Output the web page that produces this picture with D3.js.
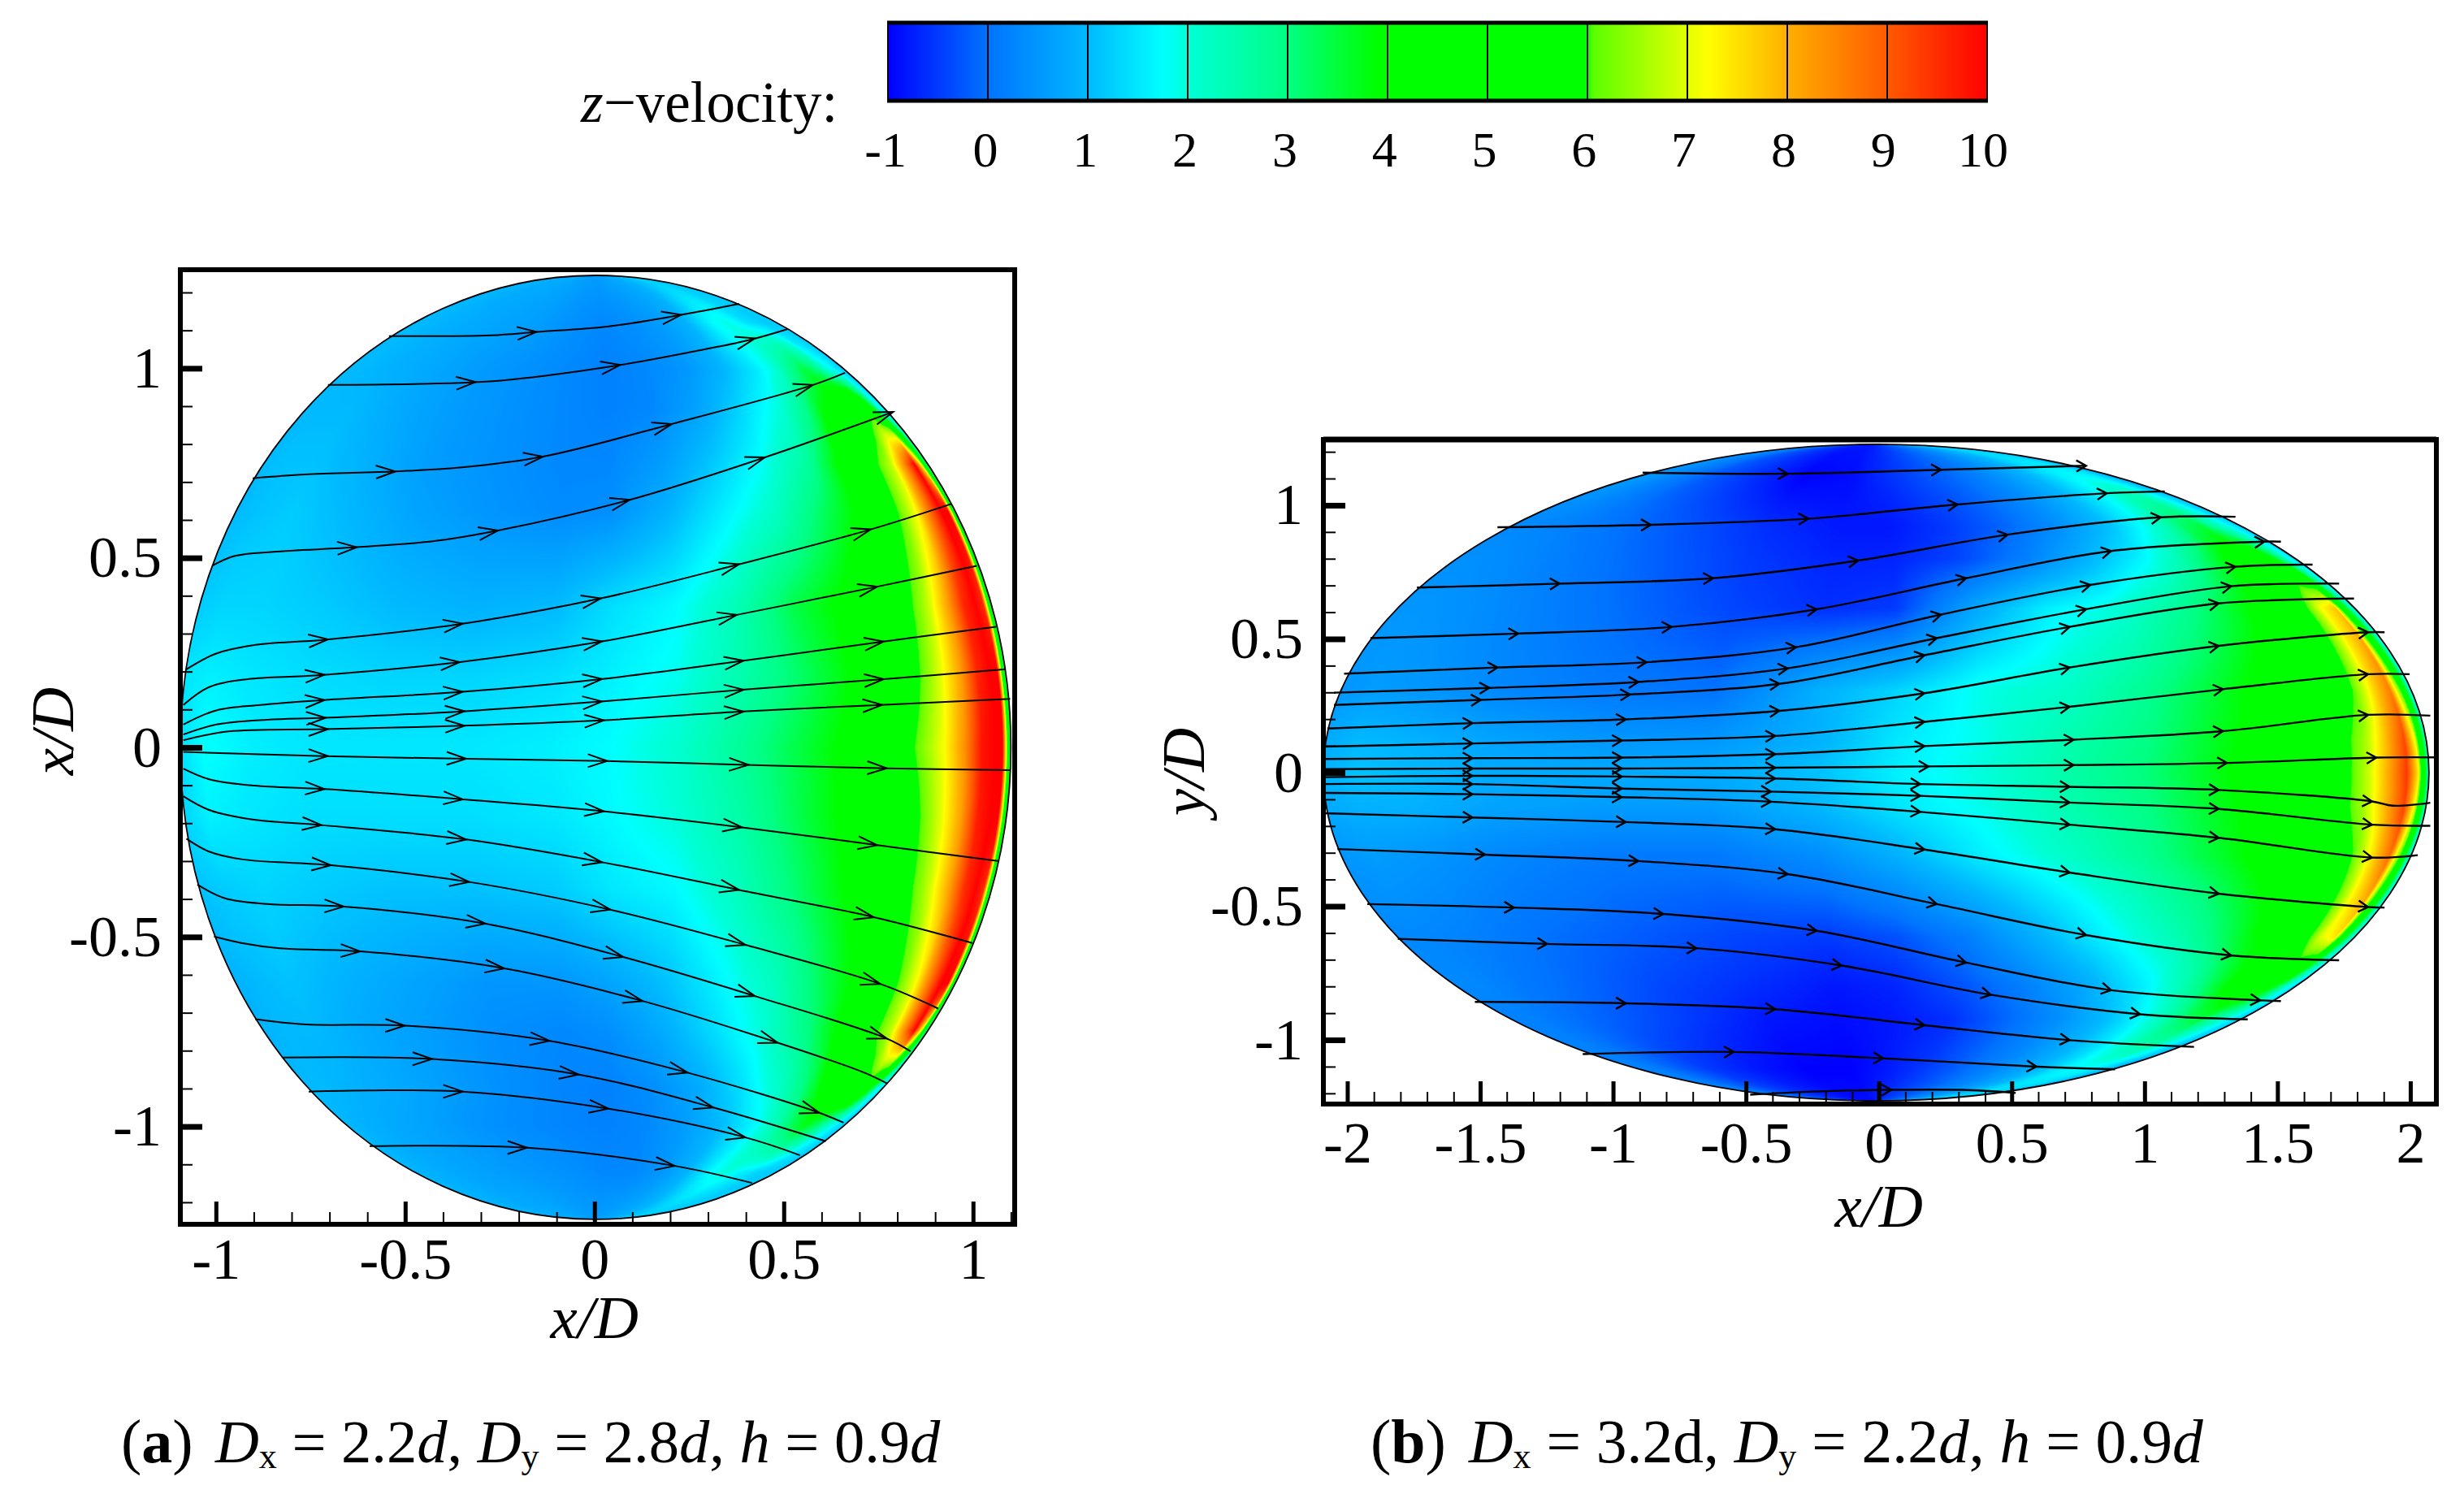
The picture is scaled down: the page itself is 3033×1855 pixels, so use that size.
<!DOCTYPE html>
<html><head><meta charset="utf-8"><script src="https://cdn.jsdelivr.net/npm/d3@7"></script>
<style>html,body{margin:0;background:#fff}svg{display:block}text{font-family:"Liberation Serif",serif;fill:#000}</style></head>
<body><svg id="c" width="3033" height="1855"></svg>
<script>
// colour bar
const barTicks=[-1,0,1,2,3,4,5,6,7,8,9,10];
const cmapV=[-1,0,1,1.75,2,3,3.9,6,6.03,7,7.2,8,9,10];
const cmapC=["#0000ff","#0073ff","#00b9ff","#00ffff","#00ffd7","#00ff82","#00ff00","#00ff00","#58ff00","#e1ff00","#ffff00","#ffaf00","#ff5a00","#ff0000"];
// field stations: S = fraction along the horizontal chord, T = height / ellipse semi-axis
const S=[0,.03,.08,.15,.25,.35,.45,.52,.6,.68,.75,.82,.86,.89,.92,.945,.965,.98,.99,1];
const Ta=[1,.9,.8,.72,.6,.5,.3,.15,0,-.15,-.3,-.5,-.6,-.72,-.8,-.9,-1];
const fieldA=[
[.9,.9,.9,.8,.8,.7,.6,.6,.7,.8,.9,1,1.1,1.2,1.2,1.2,1.2,1.2,1.2,1.2],
[1,1,.9,.8,.7,.6,.4,.3,.4,.6,.9,1.7,1.9,1.7,1.4,1.3,1.2,1.2,1.2,1.2],
[1,1,.9,.8,.6,.45,.3,.2,.3,.5,.9,1.5,2,2.8,3.5,3,2,1.7,1.4,1.2],
[1,1,1,.8,.6,.45,.3,.2,.3,.7,1.3,2,2.8,3.8,4.2,5,5.5,3.8,2,1.4],
[1,1.1,1.1,.9,.6,.45,.3,.3,.6,1.2,1.8,2.7,3.8,5,5.8,6.8,8.5,10,7,2],
[1,1.1,1.2,1,.7,.5,.35,.4,.9,1.6,2.2,3.3,3.9,5,6,7.2,8.8,10,10,3],
[1.2,1.3,1.3,1.2,1,.9,1,1.4,1.7,2.4,3.4,4.1,4.8,5.6,6.8,8.2,9.6,10,9.5,3],
[1.5,1.6,1.5,1.4,1.3,1.3,1.4,1.6,1.85,2.5,3.2,4,4.8,5.8,7,8.2,9.6,10,10,2.5],
[1.4,1.8,1.6,1.5,1.5,1.5,1.6,1.75,2.1,2.8,3.5,4.2,5.2,6.2,7.2,8.4,9.8,10,10,3],
[1.3,1.6,1.5,1.4,1.4,1.4,1.5,1.7,2,2.6,3.4,4.2,5,5.8,7,8.2,9.7,10,10,3],
[1.1,1.2,1.3,1.2,1.1,1.1,1.2,1.5,1.7,2.3,3.1,4,4.6,5.6,6.8,8.1,9.5,10,9.5,3],
[.9,1,1.1,.9,.7,.5,.5,.7,1.1,1.7,2.3,3.4,4,5,6,7.2,8.8,10,10,3],
[.9,1,1,.8,.6,.4,.3,.4,.8,1.4,2,3,3.9,5,5.8,6.8,8.5,10,7,2],
[1,1,.9,.8,.6,.4,.25,.2,.4,.8,1.4,2.2,3,3.9,4.6,5,5.5,3.8,2,1.4],
[1,.9,.8,.7,.5,.35,.25,.2,.3,.6,1,1.7,2.4,3.2,3.8,3.2,2.2,1.7,1.4,1.2],
[1,.9,.8,.7,.6,.5,.4,.3,.3,.5,.9,1.75,2,1.7,1.5,1.3,1.2,1.2,1.2,1.2],
[.9,.9,.9,.8,.8,.7,.6,.6,.7,.8,.9,1,1.1,1.2,1.2,1.2,1.2,1.2,1.2,1.2]];
const Tb=[1,.9,.75,.65,.5,.25,.1,0,-.1,-.25,-.5,-.65,-.75,-.9,-1];
const fieldB=[
[.3,.3,.1,-.3,-.6,-.8,-.8,-.6,-.3,0,.4,.8,1,1.2,1.2,1.2,1.2,1,.9,.9],
[.5,.5,.2,-.2,-.6,-1,-.9,-.6,-.3,0,.4,.9,1.3,1.6,1.75,1.7,1.5,1.2,1,.9],
[.3,.3,.2,0,-.3,-.6,-.8,-.8,-.5,-.1,.4,1.1,1.7,2.2,3.2,3.5,2.5,1.9,1.5,1.2],
[.4,.4,.3,.1,-.2,-.5,-.7,-.7,-.4,.2,.9,1.7,2.4,3.2,4,4.5,4.6,3.3,2,1.3],
[.5,.5,.4,.2,-.1,-.4,-.6,-.5,.7,1.6,2,2.8,3.4,3.9,4.3,5.5,7.2,7.8,4,1.5],
[.5,.6,.5,.3,.1,0,.9,1.3,1.9,2.2,2.8,3.6,4.1,4.4,5,6,7.6,8.6,6,1.5],
[.8,1,.9,.7,.5,.5,.9,1.5,1.9,2.5,3,3.8,4.2,4.6,5.5,6.6,8,9.2,7,2],
[.9,1.1,1,.8,.8,.8,1.1,1.6,2,2.6,3.1,3.9,4.2,4.6,5.5,6.8,8.2,9.4,7.5,2],
[.8,.9,.9,.7,.6,.6,1,1.5,1.9,2.5,3,3.8,4.2,4.6,5.5,6.7,8.1,9.3,7,2],
[.5,.6,.5,.3,.1,.1,.4,.9,1.6,2.2,2.8,3.6,4.1,4.4,5,6,7.6,8.8,6,1.5],
[.3,.3,.2,0,-.2,-.4,-.5,-.3,.2,1,1.75,2.5,3.2,3.8,4.2,5.2,7,7.5,4,1.5],
[.3,.3,.1,-.1,-.4,-.6,-.8,-.7,-.3,.2,.8,1.6,2.3,3.1,4,4.5,4.6,3.3,2,1.3],
[.2,.2,0,-.2,-.5,-.8,-.9,-.8,-.6,-.1,.4,1.1,1.7,2.3,3.2,3.5,2.5,1.9,1.5,1.2],
[.2,.2,-.1,-.5,-.8,-1,-1,-.8,-.5,-.1,.3,.8,1.2,1.6,1.75,1.7,1.5,1.2,1,.9],
[.2,.2,-.1,-.4,-.7,-.9,-.9,-.7,-.4,-.1,.3,.7,1,1.2,1.2,1.2,1.2,1,.9,.9]];
// streamlines, panel a: [x,y] knots and arrow-tip x values
const linesA=[
[[-.543,1.085],[-.272,1.087],[-.153,1.096],[.034,1.11],[.229,1.141],[.382,1.17]],
[[-.704,.956],[-.339,.962],[-.221,.97],[.051,1.006],[.255,1.043],[.407,1.074],[.509,1.103]],
[[-.903,.71],[-.764,.72],[-.526,.728],[-.356,.738],[-.136,.767],[.204,.853],[.577,.956],[.662,.988]],
[[-1.01,.479],[-.95,.505],[-.848,.516],[-.628,.528],[-.424,.544],[-.255,.572],[.093,.653],[.45,.765],[.789,.885]],
[[-1.078,.206],[-1.001,.247],[-.899,.27],[-.713,.284],[-.356,.325],[.017,.393],[.382,.483],[.73,.575],[.942,.642]],
[[-1.086,.112],[-1.018,.159],[-.916,.18],[-.73,.19],[-.356,.225],[.017,.279],[.373,.349],[.747,.424],[1.01,.479]],
[[-1.086,.06],[-1.001,.097],[-.882,.112],[-.713,.125],[-.356,.146],[.017,.18],[.382,.227],[.747,.277],[1.061,.318]],
[[-1.086,.034],[-1.001,.06],[-.865,.073],[-.713,.078],[-.348,.095],[.017,.121],[.39,.152],[.764,.18],[1.086,.206]],
[[-1.086,.019],[-.967,.042],[-.713,.048],[-.348,.057],[.017,.071],[.382,.094],[.755,.112],[1.098,.128]],
[[-1.086,-.012],[-.713,-.023],[-.339,-.03],[.034,-.036],[.399,-.046],[.772,-.055],[1.098,-.06]],
[[-1.086,-.056],[-1.018,-.084],[-.899,-.101],[-.713,-.11],[-.348,-.137],[.017,-.168],[.382,-.21],[.747,-.258],[1.069,-.3]],
[[-1.086,-.129],[-1.018,-.165],[-.899,-.191],[-.721,-.205],[-.339,-.243],[.02,-.303],[.382,-.376],[.738,-.448],[.998,-.516]],
[[-1.078,-.241],[-1.018,-.275],[-.933,-.295],[-.696,-.311],[-.331,-.355],[.042,-.428],[.399,-.521],[.755,-.624],[.908,-.689]],
[[-1.049,-.362],[-.976,-.398],[-.865,-.413],[-.662,-.42],[-.288,-.465],[.076,-.553],[.424,-.656],[.772,-.768],[.835,-.802]],
[[-1.005,-.499],[-.933,-.516],[-.831,-.53],[-.619,-.538],[-.238,-.583],[.127,-.669],[.484,-.779],[.713,-.858],[.772,-.886]],
[[-.896,-.717],[-.764,-.731],[-.501,-.734],[-.119,-.774],[.246,-.858],[.594,-.964],[.658,-.99]],
[[-.823,-.818],[-.429,-.822],[-.042,-.863],[.314,-.95],[.611,-1.039]],
[[-.755,-.908],[-.594,-.905],[-.348,-.908],[.037,-.953],[.399,-1.029],[.543,-1.076]],
[[-.594,-1.052],[-.178,-1.056],[.212,-1.104],[.416,-1.149]]];
const arrowsA=[[-.153,.229],[-.314,.068,.424],[-.526,-.136,.204,.577],[-.628,-.255,.093,.45,.789],[-.704,-.348,.017,.382,.73],[-.713,-.356,.02,.376,.747],[-.713,-.348,.02,.394,.764],[-.71,-.343,.02,.394,.764],[-.704,-.343,.025,.394,.76],[-.704,-.339,.034,.407,.772],[-.713,-.348,.025,.39,.747],[-.721,-.339,.02,.382,.738],[-.696,-.331,.042,.399,.755],[-.662,-.288,.076,.424,.772],[-.619,-.238,.127,.484],[-.501,-.119,.246,.594],[-.429,-.042,.314],[-.348,.037,.399],[-.178,.212]];
// streamlines, panel b
const linesB=[
[[-.889,1.122],[-.343,1.118],[.234,1.133],[.78,1.148]],
[[-1.435,.918],[-.858,.927],[-.265,.95],[.296,1.003],[.858,1.045],[1.076,1.052]],
[[-1.738,.692],[-1.201,.707],[-.624,.727],[-.078,.793],[.484,.89],[1.061,.955],[1.342,.957]],
[[-1.913,.503],[-1.357,.52],[-.78,.545],[-.234,.611],[.328,.727],[.874,.829],[1.451,.864],[1.513,.864]],
[[-2.012,.37],[-1.435,.393],[-.874,.413],[-.312,.469],[.234,.591],[.796,.702],[1.342,.77],[1.632,.778]],
[[-2.05,.299],[-1.466,.317],[-.905,.339],[-.343,.39],[.218,.503],[.78,.611],[1.326,.697],[1.732,.707]],
[[-2.05,.253],[-1.498,.272],[-.936,.292],[-.374,.332],[.172,.439],[.718,.545],[1.279,.633],[1.788,.651]],
[[-2.075,.165],[-1.529,.185],[-.952,.199],[-.374,.231],[.172,.297],[.718,.393],[1.279,.474],[1.841,.525],[1.903,.525]],
[[-2.09,.097],[-1.529,.109],[-.967,.12],[-.39,.137],[.172,.19],[.718,.246],[1.295,.312],[1.841,.368],[1.997,.368]],
[[-2.09,.051],[-1.529,.054],[-.967,.056],[-.39,.069],[.172,.099],[.733,.123],[1.295,.155],[1.841,.216],[2.075,.213]],
[[-2.09,.013],[-1.529,.015],[-.967,.015],[-.39,.018],[.187,.023],[.733,.028],[1.31,.036],[1.872,.056],[2.09,.057]],
[[-2.09,-.017],[-1.529,-.012],[-.967,-.015],[-.39,-.022],[.156,-.043],[.718,-.053],[1.279,-.065],[1.856,-.108],[1.934,-.124],[2.075,-.113]],
[[-2.09,-.043],[-1.529,-.043],[-.967,-.06],[-.406,-.071],[.156,-.087],[.718,-.112],[1.279,-.136],[1.856,-.195],[2.075,-.199]],
[[-2.09,-.076],[-1.529,-.081],[-.967,-.092],[-.406,-.109],[.156,-.147],[.718,-.195],[1.279,-.244],[1.856,-.318],[2.028,-.309]],
[[-2.09,-.152],[-1.529,-.168],[-.952,-.185],[-.39,-.212],[.172,-.288],[.718,-.374],[1.279,-.453],[1.841,-.503],[1.903,-.505]],
[[-2.037,-.286],[-1.482,-.307],[-.905,-.331],[-.343,-.38],[.218,-.492],[.78,-.608],[1.326,-.684],[1.732,-.702]],
[[-1.925,-.492],[-1.373,-.505],[-.811,-.529],[-.234,-.592],[.328,-.711],[.874,-.814],[1.435,-.852],[1.513,-.855]],
[[-1.81,-.622],[-1.248,-.641],[-.686,-.657],[-.14,-.722],[.421,-.831],[.983,-.904],[1.388,-.923]],
[[-1.52,-.858],[-.952,-.863],[-.39,-.885],[.172,-.945],[.718,-1.001],[1.186,-1.026]],
[[-1.114,-1.053],[-.546,-1.045],[.016,-1.069],[.593,-1.1],[.889,-1.11]],
[[-.484,-1.205],[-.265,-1.194],[.047,-1.187],[.312,-1.187],[.515,-1.198]]];
const arrowsB=[[-.343,.234,.78],[-.858,-.265,.296,.858],[-1.201,-.624,-.078,.484,1.061],[-1.357,-.78,-.234,.328,.874,1.451],[-1.435,-.874,-.312,.234,.796,1.342],[-1.466,-.905,-.343,.218,.78,1.326],[-1.498,-.936,-.374,.172,.718,1.279],[-1.529,-.952,-.374,.172,.718,1.279,1.841],[-1.529,-.967,-.39,.172,.718,1.295,1.841],[-1.529,-.967,-.39,.172,.733,1.295,1.841],[-1.529,-.967,-.39,.187,.733,1.31,1.872],[-1.529,-.967,-.39,.156,.718,1.279,1.856],[-1.529,-.967,-.406,.156,.718,1.279,1.856],[-1.529,-.967,-.406,.156,.718,1.279,1.856],[-1.529,-.952,-.39,.172,.718,1.279,1.841],[-1.482,-.905,-.343,.218,.78,1.326],[-1.373,-.811,-.234,.328,.874,1.435],[-1.248,-.686,-.14,.421,.983],[-.952,-.39,.172,.718],[-.546,.016,.593],[.047]];
const xMajorA=[-1,-.5,0,.5,1], yMajorA=[-1,-.5,0,.5,1];
const xMajorB=[-2,-1.5,-1,-.5,0,.5,1,1.5,2], yMajorB=[-1,-.5,0,.5,1];
const minorA=d3.range(-12,13).map(d=>d/10), minorBx=d3.range(-20,21).map(d=>d/10);

const svg=d3.select("#c");
// colour lookup
const col=d3.scaleLinear().domain(cmapV).range(cmapC).interpolate(d3.interpolateRgb).clamp(true);
const lut=d3.range(0,1101).map(i=>{const c=d3.rgb(col(-1+i/100));return [c.r,c.g,c.b];});

// legend
const bar=d3.scaleLinear().domain([-1,10]).range([1093,2446]);
const defs=svg.append("defs");
const g0=defs.append("linearGradient").attr("id","bar");
d3.range(-1,10.001,.05).forEach(v=>g0.append("stop").attr("offset",(v+1)/11).attr("stop-color",col(v)));
svg.append("rect").attr("x",bar(-1)).attr("y",29).attr("width",bar(10)-bar(-1)).attr("height",94).attr("fill","url(#bar)");
svg.selectAll(".bd").data(barTicks).join("line").attr("x1",d=>bar(d)).attr("x2",d=>bar(d)).attr("y1",28).attr("y2",124).attr("stroke","#000").attr("stroke-width",2);
svg.selectAll(".bh").data([28,124]).join("line").attr("x1",bar(-1)-1).attr("x2",bar(10)+1).attr("y1",d=>d).attr("y2",d=>d).attr("stroke","#000").attr("stroke-width",5);
svg.selectAll(".bl").data(barTicks).join("text").attr("x",d=>bar(d)-3-d*.2).attr("y",205).attr("text-anchor","middle").attr("font-size",62).text(d=>d);
const zt=svg.append("text").attr("x",715).attr("y",150).attr("font-size",71);
zt.append("tspan").attr("font-style","italic").text("z");
zt.append("tspan").text("\u2212velocity:");

function panel(o){
  const x=d3.scaleLinear().domain(o.xd).range(o.xr), y=d3.scaleLinear().domain(o.yd).range(o.yr);
  // field raster
  const cv=document.createElement("canvas"),W=o.xr[1]-o.xr[0],H=o.yr[0]-o.yr[1];
  cv.width=W;cv.height=H;const ctx=cv.getContext("2d"),im=ctx.createImageData(W,H);
  const cs=d3.scaleLinear().domain(S).range(S.map((_,i)=>i)).clamp(true);
  const rs=d3.scaleLinear().domain(o.T).range(o.T.map((_,i)=>i)).clamp(true);
  for(let j=0;j<H;j++){const yv=y.invert(o.yr[1]+j+.5),t=yv/o.ry;if(Math.abs(t)>=1)continue;
    const h=Math.sqrt(1-t*t),rf=rs(t),r0=Math.min(Math.floor(rf),o.T.length-2),fr=rf-r0;
    for(let i=0;i<W;i++){const xv=x.invert(o.xr[0]+i+.5),s=((xv-o.cx)/(o.rx*h)+1)/2;if(s<0||s>1)continue;
      const cf=cs(s),c0=Math.min(Math.floor(cf),S.length-2),fc=cf-c0,F=o.field;
      const v=(F[r0][c0]*(1-fc)+F[r0][c0+1]*fc)*(1-fr)+(F[r0+1][c0]*(1-fc)+F[r0+1][c0+1]*fc)*fr;
      const c=lut[Math.max(0,Math.min(1100,Math.round((v+1)*100)))],k=4*(j*W+i);
      im.data[k]=c[0];im.data[k+1]=c[1];im.data[k+2]=c[2];im.data[k+3]=255;}}
  ctx.putImageData(im,0,0);
  svg.append("image").attr("x",o.xr[0]).attr("y",o.yr[1]).attr("width",W).attr("height",H).attr("href",cv.toDataURL());
  const id="clip"+o.name;
  defs.append("clipPath").attr("id",id).append("rect").attr("x",o.xr[0]).attr("y",o.yr[1]).attr("width",W).attr("height",H);
  const g=svg.append("g").attr("clip-path",`url(#${id})`);
  g.append("ellipse").attr("cx",x(o.cx)).attr("cy",y(0)).attr("rx",x(o.rx)-x(0)).attr("ry",y(0)-y(o.ry)).attr("fill","none").attr("stroke","#000").attr("stroke-width",1.8);
  const line=d3.line().x(d=>x(d[0])).y(d=>y(d[1])).curve(d3.curveCatmullRom);
  g.selectAll(".s").data(o.lines).join("path").attr("d",line).attr("fill","none").attr("stroke","#000").attr("stroke-width",o.sw);
  o.lines.forEach((L,i)=>{
    const f=d3.scaleLinear().domain(L.map(d=>d[0])).range(L.map(d=>d[1]));
    g.selectAll(null).data(o.arrows[i]).join("path").attr("fill","none").attr("stroke","#000").attr("stroke-width",o.sw)
     .attr("d",a=>{const px=x(a),py=y(f(a)),ang=Math.atan2(y(f(a))-y(f(a-.03)),x(a)-x(a-.03));
       const pt=(u,v)=>[px+u*Math.cos(ang)-v*Math.sin(ang),py+u*Math.sin(ang)+v*Math.cos(ang)];
       const A=pt(-o.al,-o.aw),B=pt(-o.al,o.aw);
       return `M${A}L${px},${py}L${B}`;});
  });
  // axes
  const ax=(sel,fn)=>sel.call(fn).call(s=>s.select(".domain").remove());
  const gx=svg.append("g").attr("transform",`translate(0,${o.yr[0]})`),gy=svg.append("g").attr("transform",`translate(${o.xr[0]},0)`);
  ax(gx.append("g"),d3.axisBottom(x).tickValues(o.xMinor.filter(d=>d>=o.xd[0]&&d<=o.xd[1])).tickSize(-15).tickFormat("")).selectAll("line").attr("stroke-width",2);
  ax(gy.append("g"),d3.axisLeft(y).tickValues(minorA.filter(d=>d>=o.yd[0]&&d<=o.yd[1])).tickSize(-15).tickFormat("")).selectAll("line").attr("stroke-width",2);
  const mx=gx.append("g"),my=gy.append("g");
  ax(mx,d3.axisBottom(x).tickValues(o.xMajor).tickSize(-28).tickPadding(o.xPad).tickFormat(d=>String(d)));
  ax(my,d3.axisLeft(y).tickValues(o.yMajor).tickSize(-27).tickPadding(o.yPad).tickFormat(d=>String(d)));
  mx.selectAll("line").attr("stroke-width",5);my.selectAll("line").attr("stroke-width",7);
  mx.selectAll("text").attr("font-size",o.fs).attr("font-family",'"Liberation Serif"');
  my.selectAll("text").attr("font-size",o.fs).attr("font-family",'"Liberation Serif"');
  // frame
  svg.append("rect").attr("x",o.xr[0]).attr("y",o.yr[1]).attr("width",W).attr("height",H).attr("fill","none").attr("stroke","#000").attr("stroke-width",o.frame);
  if(o.thickTop) svg.append("line").attr("x1",o.xr[0]).attr("x2",o.xr[1]).attr("y1",o.yr[1]).attr("y2",o.yr[1]).attr("stroke","#000").attr("stroke-width",o.thickTop);
  svg.append("text").attr("x",x(0)).attr("y",o.xlabY).attr("text-anchor","middle").attr("font-size",75).attr("font-style","italic").text("x/D");
  svg.append("text").attr("transform",`translate(${o.ylab[0]},${o.ylab[1]}) rotate(-90)`).attr("text-anchor","middle").attr("font-size",75).attr("font-style","italic").text(o.ytitle);
}
panel({name:"a",xd:[-1.094,1.11],xr:[222,1249],yd:[-1.258,1.26],yr:[1507,332],cx:.003,rx:1.097,ry:1.245,T:Ta,field:fieldA,lines:linesA,arrows:arrowsA,
  xMajor:xMajorA,yMajor:yMajorA,xMinor:minorA,xPad:16,yPad:23,fs:72,sw:2,al:24,aw:8,frame:6,xlabY:1647,ylab:[90,900],ytitle:"x/D"});
panel({name:"b",xd:[-2.09,2.098],xr:[1629,2999],yd:[-1.24,1.246],yr:[1359,541],cx:-.01,rx:2.08,ry:1.228,T:Tb,field:fieldB,lines:linesB,arrows:arrowsB,
  xMajor:xMajorB,yMajor:yMajorB,xMinor:minorBx,xPad:21,yPad:25,fs:72,sw:2.4,al:12,aw:7,frame:6,thickTop:7,xlabY:1510,ylab:[1482,950],ytitle:"y/D"});
// captions
function cap(x0,x1,fs,label,parts){
  const t=svg.append("text").attr("x",x0).attr("y",1800).attr("font-size",76);
  t.append("tspan").text("(");t.append("tspan").attr("font-weight","bold").text(label);t.append("tspan").text(")");
  const u=svg.append("text").attr("x",x1).attr("y",1800).attr("font-size",fs);
  parts.forEach(p=>{const s=u.append("tspan").text(p[0]);
    if(p[1]==="i")s.attr("font-style","italic");
    if(p[1]==="s")s.attr("font-size",44).attr("dy",7);
    if(p[2])s.attr("dy",p[2]);});
}
cap(149,265,74.5,"a",[["D","i"],["x","s"],[" = 2.2","",-7],["d","i"],[", "],["D","i"],["y","s"],[" = 2.8","",-7],["d","i"],[", "],["h","i"],[" = 0.9"],["d","i"]]);
cap(1687,1808,75.5,"b",[["D","i"],["x","s"],[" = 3.2d, ","",-7],["D","i"],["y","s"],[" = 2.2","",-7],["d","i"],[", "],["h","i"],[" = 0.9"],["d","i"]]);
</script></body></html>
